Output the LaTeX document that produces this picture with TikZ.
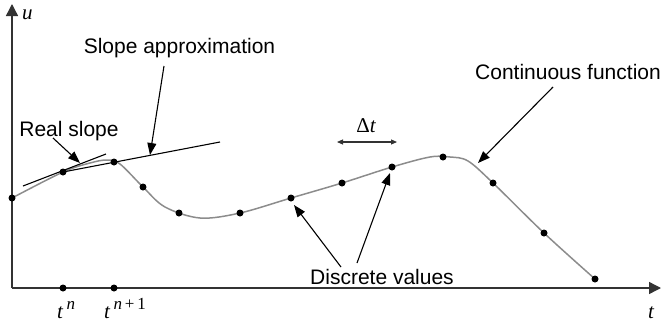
\documentclass[tikz,border=0pt]{standalone}
\usepackage{fontspec}
\setmainfont{Liberation Sans}
\newfontfamily\tms{Liberation Serif}
\usetikzlibrary{arrows.meta}
\newcommand{\supr}[1]{\raisebox{0.42em}{\fontsize{17}{17}\selectfont #1}}
\begin{document}
\begin{tikzpicture}[x=1pt,y=-1pt,
  lbl/.style={font=\fontsize{21}{25}\selectfont, anchor=base, inner sep=0pt},
  mth/.style={font=\fontsize{21}{24}\selectfont\tms\itshape, inner sep=0pt},
  axis/.style={line width=1.4pt, draw=black!80},
  curve/.style={line width=1.5pt, draw=black!45},
  dot/.style={circle, fill=black, inner sep=0pt, minimum size=7pt},
  pointer/.style={line width=1.1pt, -{Triangle[length=12pt,width=9pt]}},
  tang/.style={line width=1.1pt},
]
\useasboundingbox (0,0) rectangle (662,322);
% axes
\coordinate (O) at (12,288);
\coordinate (ytip) at (12,4);
\coordinate (xtip) at (661,288);
\draw[axis, -{Triangle[length=12pt,width=12pt]}] (O) -- (ytip);
\draw[axis, -{Triangle[length=12pt,width=12pt]}] (O) -- (xtip);
\node[mth, anchor=base west] (ulab) at (22,19) {u};
\node[mth, anchor=base] (tlab) at (651,318) {t};
% continuous curve
\draw[curve] plot[smooth, tension=0.55] coordinates {
  (12,198) (63,172) (90,163) (107,160) (120,164) (143,187) (165,207)
  (200,218) (240,213) (291,198) (342,183) (392,167) (430,157) (450,157)
  (468,161) (493,183) (544,233) (595,279)};
% tangent lines
\coordinate (rs1) at (23,186);
\coordinate (rs2) at (106,154);
\draw[tang] (rs1) -- (rs2);
\coordinate (sa2) at (220,142);
% discrete values
\foreach \px/\py [count=\i from 0] in {12/198, 63/172, 114/162, 143/187, 179/213,
   240/213, 291/198, 342/183, 392/167, 443/157, 493/183, 544/233, 595/279}
  \node[dot] (d\i) at (\px,\py) {};
\draw[tang] (d1.center) -- (sa2);
% axis points
\node[dot] (tn) at (63,288) {};
\node[dot] (tn1) at (114,288) {};
\node[mth, anchor=base west] (tnlab) at (57,318) {t\,\supr{n}};
\node[mth, anchor=base west] (tn1lab) at (104,318) {t\,\supr{n\upshape\,+\,1}};
% labels
\node[lbl] (slab) at (179.5,53) {Slope approximation};
\node[lbl] (rlab) at (69,136) {Real slope};
\node[lbl] (clab) at (568,79) {Continuous function};
\node[lbl] (dlab) at (382,284) {Discrete values};
\node[font=\fontsize{21}{24}\selectfont\tms, anchor=base, inner sep=0pt] (dtlab) at (366,132) {Δ\itshape t};
% pointers
\coordinate (st) at (164,66);
\coordinate (sh) at (150,155);
\draw[pointer] (st) -- (sh);
\coordinate (rt) at (53,138);
\coordinate (rh) at (80,163);
\draw[pointer] (rt) -- (rh);
\coordinate (ct) at (553,87);
\coordinate (ch) at (478,163);
\draw[pointer] (ct) -- (ch);
\coordinate (dt1) at (341,267);
\coordinate (dh1) at (294,205);
\draw[pointer] (dt1) -- (dh1);
\coordinate (dt2) at (357,263);
\coordinate (dh2) at (390,173);
\draw[pointer] (dt2) -- (dh2);
% delta t
\coordinate (da) at (337,142);
\coordinate (db) at (397,142);
\draw[line width=1.1pt, draw=black!80, {Triangle[length=6pt,width=5pt]}-{Triangle[length=6pt,width=5pt]}] (da) -- (db);
\end{tikzpicture}
\end{document}
